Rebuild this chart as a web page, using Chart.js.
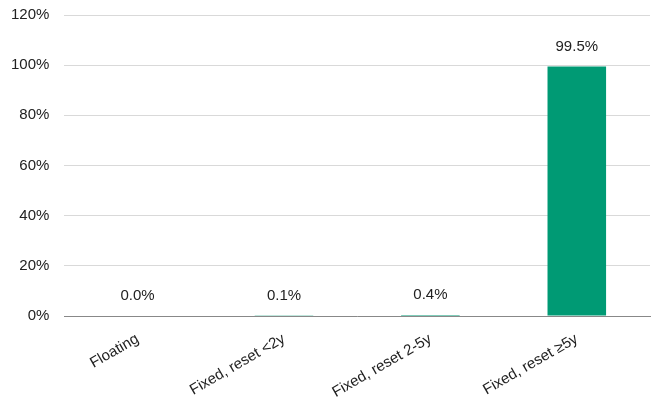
<!DOCTYPE html>
<html>
<head>
<meta charset="utf-8">
<script src="https://cdn.jsdelivr.net/npm/chart.js@4"></script>
<style>
html,body{margin:0;padding:0;background:#fff;}
#wrap{width:655px;height:401px;}
</style>
</head>
<body>
<div id="wrap"><canvas id="c" width="655" height="401"></canvas></div>
<script>
const categories = ["Floating", "Fixed, reset <2y", "Fixed, reset 2-5y", "Fixed, reset \u22655y"];
const shares = [0.0, 0.1, 0.4, 99.5];
const valueLabels = ["0.0%", "0.1%", "0.4%", "99.5%"];
const yTicks = [0, 20, 40, 60, 80, 100, 120];

const FONT = '"Liberation Sans", Arial, sans-serif';

const labelPlugin = {
  id: 'valueLabels',
  afterDatasetsDraw(chart) {
    const ctx = chart.ctx;
    const meta = chart.getDatasetMeta(0);
    ctx.save();
    ctx.font = '15px ' + FONT;
    ctx.fillStyle = '#222';
    ctx.textAlign = 'center';
    ctx.textBaseline = 'middle';
    meta.data.forEach((bar, i) => {
      ctx.fillText(valueLabels[i], bar.x, bar.y - 20);
    });
    ctx.restore();
  }
};

new Chart(document.getElementById('c'), {
  type: 'bar',
  data: {
    labels: categories,
    datasets: [{
      data: shares,
      backgroundColor: '#009a74',
      borderWidth: 0,
      barPercentage: 0.4,
      categoryPercentage: 1.0
    }]
  },
  options: {
    responsive: false,
    animation: false,
    devicePixelRatio: 1,
    layout: { autoPadding: false, padding: { left: -4, right: 5, top: 0, bottom: 0 } },
    plugins: { legend: { display: false }, tooltip: { enabled: false } },
    scales: {
      x: {
        grid: { display: false, drawTicks: false },
        border: { display: true, color: '#888', width: 1 },
        afterFit(scale) { scale.paddingLeft = 0; scale.paddingRight = 0; scale.height = 85; },
        ticks: {
          color: '#222',
          font: { family: FONT, size: 15 },
          minRotation: 30, maxRotation: 30, padding: 14
        }
      },
      y: {
        min: 0, max: 120,
        afterBuildTicks(axis) { axis.ticks = yTicks.map(v => ({ value: v })); },
        afterFit(scale) { scale.paddingTop = 15; scale.paddingBottom = 0; },
        grid: { color: '#d9d9d9', drawTicks: false },
        border: { display: false },
        ticks: {
          color: '#222',
          font: { family: FONT, size: 15 },
          padding: 15,
          callback: v => v + '%'
        }
      }
    }
  },
  plugins: [labelPlugin]
});
</script>
</body>
</html>
